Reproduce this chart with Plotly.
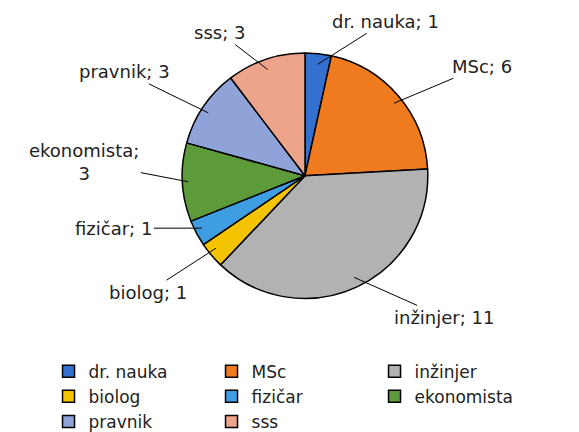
import math
import plotly.graph_objects as go

# data
labels = ["dr. nauka", "MSc", "inžinjer", "biolog", "fizičar", "ekonomista", "pravnik", "sss"]
values = [1, 6, 11, 1, 1, 3, 3, 3]
colors = ["#3470d0", "#f07a1e", "#b2b2b2", "#f4c400", "#3f9de2", "#5c9a3a", "#8fa3d8", "#eea48a"]

# label text (Excel style "name; value") and pixel offsets of each label from its slice edge
label_text = ["dr. nauka; 1", "MSc; 6", "inžinjer; 11", "biolog; 1",
              "fizičar; 1", "ekonomista;<br>3", "pravnik; 3", "sss; 3"]
label_off = [(68, -43), (88, -37), (90, 40), (-68, 44),
             (-88, 0), (-104, -20), (-84, -41), (-48, -37)]

W, H = 579, 432
cx, cy, r = 297, 175, 123  # pie centre / drawn radius in px
rd = r / 0.96              # domain half-size (plotly draws slightly inside the domain)

fig = go.Figure(go.Pie(
    labels=labels,
    values=values,
    sort=False,
    direction="clockwise",
    rotation=0,
    marker=dict(colors=colors, line=dict(color="black", width=1.5)),
    textinfo="none",
    textposition="none",
    hoverinfo="label+value",
    domain=dict(x=[(cx - rd) / W, (cx + rd) / W], y=[(H - cy - rd) / H, (H - cy + rd) / H]),
))

total = sum(values)
cum = 0
for v, txt, (ox, oy) in zip(values, label_text, label_off):
    ang = (cum + v / 2) / total * 2 * math.pi
    cum += v
    px_ = cx + r * 0.95 * math.sin(ang)
    py_ = cy - r * 0.95 * math.cos(ang)
    fig.add_annotation(
        x=px_ / W, y=1 - py_ / H, xref="paper", yref="paper",
        text=txt, showarrow=True, arrowhead=0, arrowwidth=1, arrowcolor="black",
        ax=ox, ay=oy, font=dict(size=18, color="#222"),
    )

fig.update_layout(
    width=W, height=H,
    margin=dict(l=0, r=0, t=0, b=0),
    paper_bgcolor="white",
    font=dict(family="DejaVu Sans", color="#222"),
    showlegend=True,
    legend=dict(orientation="h", x=0.07, xanchor="left", y=0.165, yanchor="top",
                entrywidth=118, entrywidthmode="pixels", traceorder="normal",
                font=dict(size=17), itemwidth=30, tracegroupgap=0),
)

fig.write_html("out.html")
